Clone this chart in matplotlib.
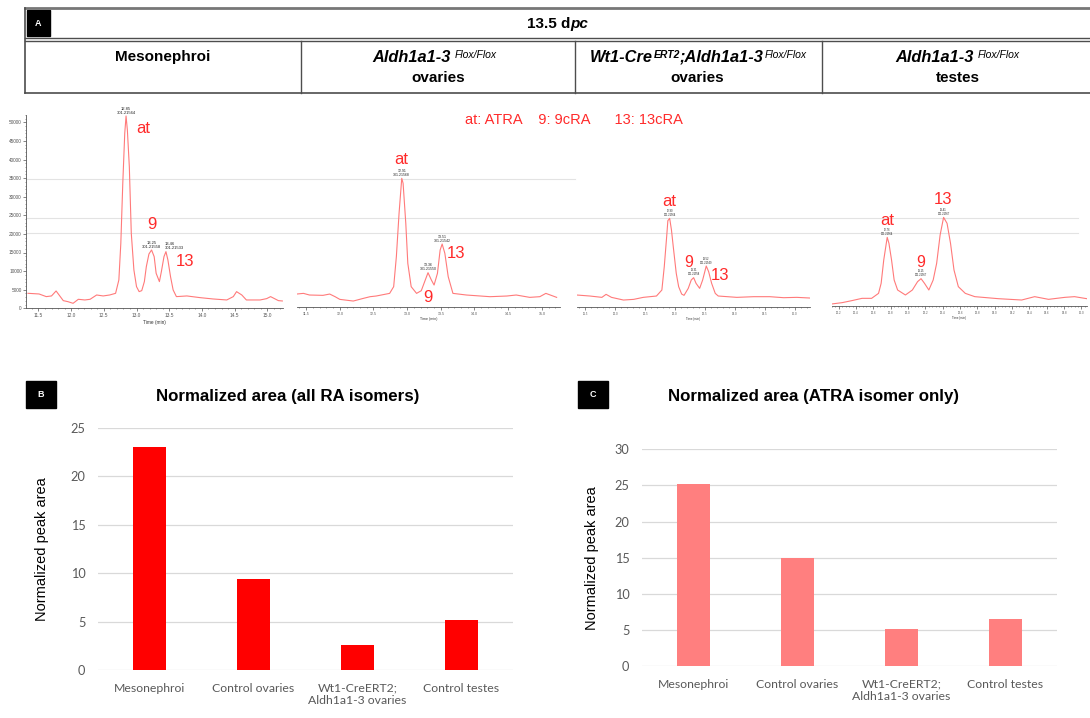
import matplotlib
matplotlib.use('Agg')
import matplotlib.pyplot as plt
from matplotlib.patches import Rectangle
from matplotlib.ticker import MultipleLocator, FixedLocator
import numpy as np

plt.rcParams['font.family'] = ['Liberation Sans', 'DejaVu Sans']

W, H = 1090, 718

# ---- bar data (panels B and C) ----
groups = ['Mesonephroi', 'Control ovaries', 'Wt1-CreERT2;\nAldh1a1-3 ovaries', 'Control testes']
area_all = [23.04, 9.39, 2.55, 5.13]
area_atra = [25.25, 15.0, 5.08, 6.55]

# ---- chromatogram traces (panel A) ----
meso_t = [11.34, 11.51, 11.62, 11.70, 11.77, 11.88, 11.95, 12.03, 12.11, 12.21, 12.29, 12.39,
          12.49, 12.59, 12.68, 12.73, 12.76, 12.79, 12.82, 12.84, 12.86, 12.89, 12.92, 12.96,
          13.00, 13.04, 13.08, 13.12, 13.15, 13.19, 13.23, 13.27, 13.30, 13.35, 13.38, 13.42,
          13.45, 13.48, 13.52, 13.56, 13.61, 13.77, 13.97, 14.17, 14.38, 14.48, 14.53, 14.61,
          14.68, 14.89, 14.99, 15.05, 15.17, 15.23]
meso_i = [4030, 3850, 3140, 3320, 4660, 2060, 1790, 1340, 2420, 2240, 2420, 3580,
          3320, 3580, 4030, 7620, 17470, 33600, 47040, 51700, 47940, 38080, 20160, 10300,
          5820, 4480, 4750, 7170, 11200, 14600, 15680, 13890, 9410, 7170, 9860, 13890,
          15230, 12990, 8510, 4930, 3140, 3320, 2870, 2510, 2240, 3140, 4480, 3580,
          2240, 2240, 2600, 3140, 2060, 1970]

ov_t = [11.36, 11.46, 11.55, 11.75, 11.85, 11.93, 12.00, 12.20, 12.35, 12.45, 12.54, 12.74,
        12.80, 12.84, 12.88, 12.92, 12.94, 12.98, 13.01, 13.06, 13.14, 13.21, 13.26, 13.31,
        13.36, 13.40, 13.45, 13.49, 13.52, 13.56, 13.61, 13.68, 13.88, 14.23, 14.48, 14.62,
        14.82, 14.97, 15.06, 15.22]
ov_i = [3400, 3580, 3140, 3050, 3400, 2690, 1970, 1520, 2240, 2690, 2870, 3580,
        5380, 13440, 25090, 34500, 33150, 22400, 11650, 5380, 3580, 4300, 6720, 9140,
        7170, 5820, 8960, 15230, 16840, 14340, 8060, 3580, 3140, 2690, 2870, 3140,
        2510, 2690, 3580, 2510]

cko_t = [11.36, 11.58, 11.78, 11.85, 11.94, 12.14, 12.31, 12.47, 12.69, 12.78, 12.82, 12.86,
         12.88, 12.91, 12.94, 12.97, 13.02, 13.06, 13.11, 13.15, 13.22, 13.27, 13.31, 13.35,
         13.41, 13.46, 13.52, 13.56, 13.61, 13.67, 13.72, 14.03, 14.31, 14.58, 14.81, 15.03,
         15.25]
cko_i = [3140, 2870, 2510, 3320, 2510, 1790, 1970, 2510, 2870, 4480, 10750, 18820,
         23120, 23740, 20610, 16130, 8960, 5380, 3400, 3050, 4930, 7170, 7800, 6270,
         4930, 7170, 10930, 9410, 6270, 3580, 2870, 2510, 2690, 2690, 2420, 2510,
         2330]

tes_t = [12.12, 12.24, 12.35, 12.47, 12.58, 12.66, 12.69, 12.72, 12.76, 12.78, 12.81, 12.84,
         12.88, 12.97, 13.05, 13.11, 13.15, 13.19, 13.24, 13.29, 13.33, 13.37, 13.41, 13.45,
         13.49, 13.53, 13.58, 13.66, 13.77, 14.04, 14.31, 14.46, 14.62, 14.81, 14.92, 15.06]
tes_i = [540, 900, 1430, 2060, 2060, 3400, 6090, 12360, 18460, 16840, 12360, 6990,
         4300, 2960, 4300, 6540, 7350, 6090, 4300, 6990, 11470, 19080, 23830, 22220,
         16840, 9680, 5200, 3400, 2510, 1970, 1610, 2510, 1790, 2330, 2510, 1970]

# peak labels: retention time, m/z
meso_peaks = [(12.85, '301.21564'), (13.25, '301.21558'), (13.46, '301.21533')]
ov_peaks = [(12.91, '301.21568'), (13.36, '301.21550'), (13.51, '301.21542')]
cko_peaks = [(12.90, '301.21564'), (13.31, '301.21558'), (13.52, '301.21549')]
tes_peaks = [(12.76, '301.21564'), (13.15, '301.21567'), (13.41, '301.21567')]

fig = plt.figure(figsize=(W / 100, H / 100), dpi=100)


def px_ax(l, t, r, b):
    return fig.add_axes([l / W, 1 - b / H, (r - l) / W, (b - t) / H])


# overlay in pixel coordinates for the header table and panel tags
ov = fig.add_axes([0, 0, 1, 1], zorder=0)
ov.set_xlim(0, W)
ov.set_ylim(H, 0)
ov.axis('off')

line_c = '#4d4d4d'
ov.plot([25, W], [8, 8], color='#777777', lw=2)
ov.plot([25, W], [38, 38], color=line_c, lw=1)
ov.plot([25, W], [41, 41], color=line_c, lw=1)
ov.plot([25, W], [93, 93], color=line_c, lw=1.2)
ov.plot([25, 25], [8, 93], color=line_c, lw=1.2)
for xd in [301, 575, 822]:
    ov.plot([xd, xd], [41, 93], color=line_c, lw=1)

# faint scan lines crossing the chromatograms
ov.plot([26, 575], [179, 179], color='#e3e3e3', lw=0.8)
ov.plot([26, 1078], [218, 218], color='#e3e3e3', lw=0.8)
ov.plot([26, 1078], [233, 233], color='#e3e3e3', lw=0.8)


def tag(x0, y0, w, h, s):
    ov.add_patch(Rectangle((x0, y0), w, h, color='black'))
    ov.text(x0 + w / 2, y0 + h / 2, s, color='white', fontsize=6.5, fontweight='bold',
            ha='center', va='center')


tag(27, 10, 23, 26, 'A')
tag(26, 381, 30, 27, 'B')
tag(578, 381, 30, 27, 'C')

hd = dict(fontsize=11, fontweight='bold')
gd = dict(fontsize=11.8, fontweight='bold')
t = ov.text(527, 24, '13.5 d', ha='left', va='center', **hd)
ov.annotate('pc', xy=(1, 0), xycoords=t, ha='left', va='bottom', style='italic', **hd)

ov.text(163, 57, 'Mesonephroi', ha='center', va='center', **hd)


def gene_line(x0, parts):
    prev = None
    base = None
    for s, sup, gap in parts:
        if sup:
            prev = ov.annotate(s, xy=(1, 1), xycoords=prev, xytext=(gap, -0.3),
                               textcoords='offset points', ha='left', va='top',
                               fontsize=7.5, style='italic',
                               fontweight='bold' if sup == 'b' else 'normal')
        elif prev is None:
            prev = ov.text(x0, 57, s, ha='left', va='center', style='italic', **gd)
            base = prev
        else:
            prev = ov.annotate(s, xy=(1, 0), xycoords=(prev, base), ha='left', va='bottom',
                               style='italic', **gd)


gene_line(372, [('Aldh1a1-3', None, 0), ('Flox/Flox', 'n', 3.0)])
ov.text(438, 78, 'ovaries', ha='center', va='center', **hd)
gene_line(590, [('Wt1-Cre', None, 0), ('ERT2', 'b', 0.6), (';Aldh1a1-3', None, 0),
                ('Flox/Flox', 'n', 0.6)])
ov.text(697, 78, 'ovaries', ha='center', va='center', **hd)
gene_line(895, [('Aldh1a1-3', None, 0), ('Flox/Flox', 'n', 3.0)])
ov.text(958, 78, 'testes', ha='center', va='center', **hd)

red = '#ff2a2a'
ov.text(574, 120, 'at: ATRA    9: 9cRA      13: 13cRA', color=red, fontsize=10.5,
        ha='center', va='center')

# ---- chromatograms ----
trace_c = '#ff7a7a'
spine_c = '#555555'


def chrom(box, xlim, tt, ii, peaks, aligns, red_lbls, step, lsize, psize, yaxis=False):
    ax = px_ax(*box)
    ax.patch.set_alpha(0)
    ax.plot(tt, ii, color=trace_c, lw=0.8)
    ax.set_xlim(*xlim)
    ax.set_ylim(0, 55000)
    for s in ['top', 'right']:
        ax.spines[s].set_visible(False)
    ax.spines['bottom'].set_color(spine_c)
    ax.spines['bottom'].set_linewidth(0.6)
    ax.xaxis.set_major_locator(MultipleLocator(step))
    ax.xaxis.set_minor_locator(MultipleLocator(step / 5))
    ax.tick_params(axis='x', length=2, width=0.5, labelsize=lsize, pad=1.5, colors=spine_c)
    ax.tick_params(axis='x', which='minor', length=1, width=0.4, colors=spine_c)
    ax.set_xlabel('Time (min)', fontsize=lsize, labelpad=1, color='#333333')
    if yaxis:
        ax.spines['left'].set_color(spine_c)
        ax.spines['left'].set_linewidth(0.6)
        ax.spines['left'].set_bounds(0, 52000)
        ax.yaxis.set_major_locator(FixedLocator(np.arange(0, 50001, 5000)))
        ax.yaxis.set_minor_locator(FixedLocator(np.arange(0, 52001, 1000)))
        ax.tick_params(axis='y', length=2, width=0.5, labelsize=lsize, pad=1, colors=spine_c)
        ax.tick_params(axis='y', which='minor', length=1, width=0.4, colors=spine_c)
    else:
        ax.spines['left'].set_visible(False)
        ax.set_yticks([])
    tarr = np.array(tt)
    iarr = np.array(ii)
    for (pt, mz), ha in zip(peaks, aligns):
        win = np.abs(tarr - pt) <= 0.06
        k = np.argmax(np.where(win, iarr, -1))
        dx = {'center': 0, 'left': -1}[ha]
        ax.annotate(f'{pt:.2f}\n{mz}', xy=(tarr[k], iarr[k]), xytext=(dx, 1),
                    textcoords='offset points', ha=ha, va='bottom',
                    fontsize=psize, linespacing=1.0, color='#222222')
    for s, (x, y), fs in red_lbls:
        ax.text(x, y, s, color=red, fontsize=fs, ha='center', va='center')
    return ax


chrom((26, 103.7, 283, 308.3), (11.31, 15.24), meso_t, meso_i, meso_peaks,
      ['center', 'center', 'left'],
      [('at', (13.11, 48460), 12), ('9', (13.23, 22500), 12), ('13', (13.74, 12450), 12)],
      0.5, 3.4, 3.0, yaxis=True)
chrom((296.7, 102, 560, 306.7), (11.36, 15.27), ov_t, ov_i, ov_peaks,
      ['center', 'center', 'center'],
      [('at', (12.91, 39500), 12), ('9', (13.31, 2400), 12), ('13', (13.72, 14170), 12)],
      0.5, 2.6, 2.5)
chrom((576.7, 102, 810, 306.7), (11.36, 15.25), cko_t, cko_i, cko_peaks,
      ['center', 'center', 'center'],
      [('at', (12.90, 28300), 12), ('9', (13.23, 12000), 11.5), ('13', (13.75, 8250), 12)],
      0.5, 2.1, 1.9)
chrom((831.7, 101.4, 1086.7, 306), (12.12, 15.06), tes_t, tes_i, tes_peaks,
      ['center', 'center', 'center'],
      [('13', (13.40, 28600), 12), ('at', (12.76, 23000), 12), ('9', (13.15, 11800), 11.5)],
      0.2, 2.1, 1.9)

# ---- bar charts ----
tick_c = '#595959'


def bar_panel(box, vals, color, ymax, lab_x, title, title_x):
    ax = px_ax(*box)
    x = np.arange(len(groups))
    ax.bar(x, vals, width=0.32, color=color, zorder=3)
    ax.set_xlim(-0.5, len(groups) - 0.5)
    ax.set_ylim(0, ymax)
    ax.set_yticks(np.arange(0, ymax + 1, 5))
    ax.yaxis.grid(True, color='#d9d9d9', lw=0.9)
    ax.set_axisbelow(True)
    for s in ax.spines.values():
        s.set_visible(False)
    ax.set_xticks(x, groups, fontfamily='Lato', linespacing=1.2)
    ax.tick_params(length=0, colors=tick_c, labelsize=8.8)
    ax.tick_params(axis='y', pad=9, labelsize=9.2)
    ax.tick_params(axis='x', pad=9)
    for lb in ax.get_yticklabels():
        lb.set_fontfamily('Lato')
    ax.set_ylabel('Normalized peak area', fontsize=10.5)
    ax.yaxis.set_label_coords(lab_x, 0.5)
    ov.text(title_x, 396, title, fontsize=12.2, fontweight='bold', ha='center', va='center')
    return ax


bar_panel((98, 427.7, 513, 670), area_all, '#ff0000', 25, -0.118,
          'Normalized area (all RA isomers)', 288)
bar_panel((642, 449.3, 1057, 666), area_atra, '#ff7f7f', 30, -0.104,
          'Normalized area (ATRA isomer only)', 813)

fig.savefig('out.png', dpi=100)
